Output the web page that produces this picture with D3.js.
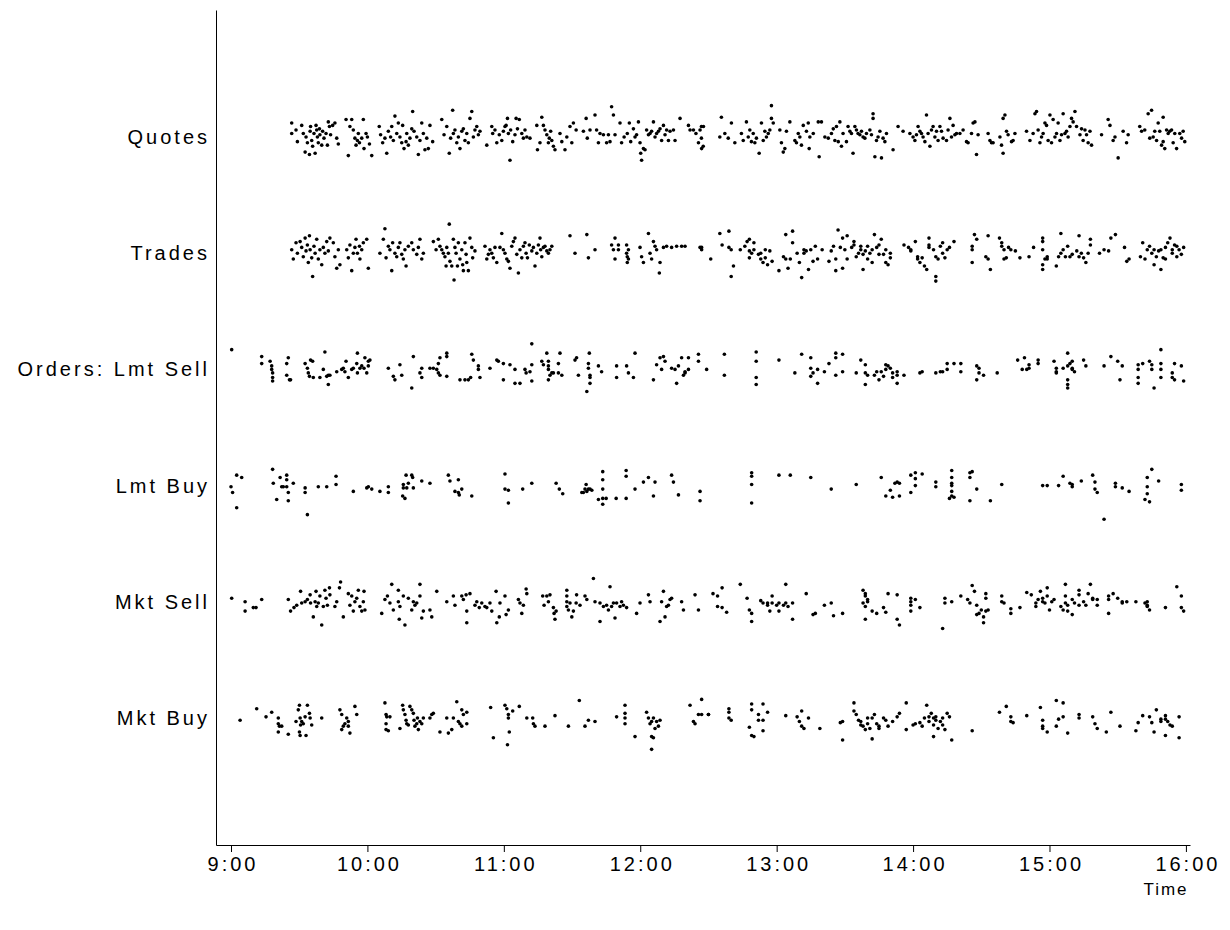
<!DOCTYPE html>
<html>
<head>
<meta charset="utf-8">
<script src="https://cdn.jsdelivr.net/npm/d3@7"></script>
<style>
  body { margin: 0; background: #fff; }
  text { font-family: "Liberation Sans", Arial, sans-serif; }
</style>
</head>
<body>
<div id="chart"></div>
<script>
// rows, bottom to top
const categories = ["Mkt Buy", "Mkt Sell", "Lmt Buy", "Orders: Lmt Sell", "Trades", "Quotes"];
// minutes after 9:00
const timeTicks = [0, 60, 120, 180, 240, 300, 360, 420];
const tickLabels = ["9:00", "10:00", "11:00", "12:00", "13:00", "14:00", "15:00", "16:00"];

// each event: [minutes after 9:00, vertical jitter in row units]
const quotes = [[26.7,.12],[26.7,.03],[28.6,.06],[29.2,-.04],[31.1,.10],[31.8,.03],[32.6,-.13],[33.0,0],[33.6,-.05],[34.5,-.15],[34.8,.05],[35.0,.09],[35.5,-.03],[35.9,-.08],[36.5,.03],[37.0,-.14],[37.4,.10],[37.7,.06],[38.0,0],[38.4,-.05],[38.9,.07],[39.1,.02],[39.9,-.07],[40.3,.05],[40.9,-.01],[41.8,.03],[42.4,-.07],[42.8,.13],[43.3,.09],[43.8,.02],[44.7,.10],[45.7,.12],[46.5,-.01],[47.2,-.06],
[50.6,.15],[51.6,-.16],[52.3,.09],[53.1,.15],[53.8,.06],[54.5,-.01],[55.0,-.07],[55.6,-.03],[56.0,.03],[56.5,-.05],[57.5,-.01],[58.2,.15],[58.5,-.10],[59.4,.03],[60.0,0],[60.9,-.06],[61.9,-.16],
[65.2,.09],[65.8,.02],[66.7,-.05],[67.7,-.01],[68.5,-.14],[69.2,.05],[70.2,0],[70.7,.09],[71.4,-.03],[72.1,.18],[72.9,.03],[73.6,.12],[74.3,0],[75.1,-.05],[75.5,.10],[76.1,-.10],[77.0,-.04],[77.3,.03],[78.0,-.07],[78.7,-.01],[79.5,.07],[79.9,.22],[80.5,.05],[81.7,0],[82.4,-.15],[83.1,-.03],[83.9,.12],[84.6,.03],[85.3,-.11],[86.1,-.01],[86.8,-.10],[87.5,.10],[88.7,-.04],
[92.7,.15],[93.7,.02],[94.9,.09],[96.0,-.14],[96.6,-.01],[97.5,.23],[97.8,.03],[98.5,.06],[99.3,-.05],[100.0,0],[100.7,-.10],[101.5,.05],[102.2,.07],[102.9,-.03],[103.7,.03],[104.4,-.05],[105.1,.16],[105.9,.22],[106.6,0],[107.3,.06],[108.1,.09],[108.8,.02],[109.5,.05],
[112.5,-.07],[114.7,.09],[115.1,.03],[116.1,.06],[116.9,-.05],[118.0,.02],[119.1,-.03],[119.8,.05],[120.5,.09],[121.0,.10],[121.6,.16],[122.0,.03],[122.7,-.20],[123.0,.06],[123.9,-.04],[124.9,.02],[125.4,.16],[126.0,.07],[126.8,.15],[127.9,.03],[128.6,-.01],[129.3,.06],[130.1,0],[131.5,-.01],
[134.5,.10],[134.8,-.11],[135.9,-.05],[136.7,.17],[137.4,.10],[138.1,.06],[138.9,.02],[139.6,-.05],[140.0,-.01],[140.6,.05],[141.1,-.03],[141.8,-.08],[142.5,-.11],[144.7,.03],[145.5,-.04],[146.9,-.11],[147.7,0],[149.1,.09],[149.9,-.05],[150.6,.12],[151.8,.06],
[155.0,.05],[156.2,.16],[156.7,-.01],[157.9,.06],[160.1,.19],[160.8,.06],[161.6,-.05],[162.3,.03],[163.8,.02],[165.2,-.05],[166.0,.02],[166.7,-.04],[167.4,.26],[168.2,.19],[168.9,.02],
[171.1,.12],[171.8,-.05],[172.9,0],[174.3,.03],[175.2,.12],[175.8,-.04],[177.0,.07],[177.7,0],[178.4,.02],[179.2,.13],[179.9,-.05],[180.2,-.14],[180.6,-.20],[181.4,-.10],[182.1,-.11],[182.8,.06],[183.6,.02],[184.3,.03],[185.0,.05],[185.8,.13],[186.5,0],[187.2,.03],[188.0,.05],[188.7,.07],[189.4,-.03],[190.2,.10],[190.9,.02],[191.6,.06],[192.4,-.03],[193.1,.05],[194.6,.06],[195.3,-.03],
[197.5,.16],[201.2,.10],[201.9,.06],[203.4,.06],[204.5,.03],[205.6,-.05],[206.3,.06],[207.0,-.10],[207.8,.09],
[206.9,.09],[206.9,-.01],[207.7,-.08],[215.7,.17],[215.0,0],[217.2,.03],[218.7,-.01],[220.1,.12],[221.6,-.05],[224.5,.03],[225.3,-.03],[226.7,.13],[227.5,0],[228.2,.06],[228.9,-.04],[229.7,.03],[230.4,-.05],[231.1,-.01],[232.3,-.14],[233.3,.12],[234.1,-.03],[234.8,.05],[235.5,0],[236.3,.03],[237.0,.06],[237.7,.27],[237.7,.16],[238.5,.12],
[241.4,.06],[242.1,-.05],[242.9,-.13],[243.6,-.10],[244.3,.05],[245.8,.13],[248.0,-.03],[248.7,-.05],[249.5,.03],[250.2,0],[250.9,-.07],[251.7,.10],[253.1,.05],[253.9,.12],[254.6,0],[256.1,.03],[254.3,-.10],[258.3,.13],[258.7,-.17],[259.7,.13],
[261.2,0],[262.7,-.01],[264.1,.03],[264.9,.07],[265.6,-.03],[266.3,.09],[267.1,-.04],[267.8,.13],[268.5,-.08],[269.2,.03],[270.7,-.04],[271.4,.09],[272.2,.05],[272.9,.03],[273.6,-.14],[274.4,.09],[275.1,.06],[275.8,.03],[276.6,.02],[277.3,.05],[278.0,0],[278.8,-.01],[279.5,.03],[281.0,.06],[281.7,.02],[282.4,.20],[282.4,.16],[283.2,-.17],[283.9,-.03],[284.6,0],[285.4,.05],[286.1,-.18],[286.8,-.01],[287.6,-.04],[288.3,.03],[291.2,-.11],[293.4,.09],[295.6,.05],[298.6,.03],
[300.0,0],[300.8,-.03],[301.5,.02],[302.2,.09],[303.0,.05],[303.7,.03],[304.4,0],[305.2,-.04],[305.9,.19],[306.6,.03],[307.4,-.08],[308.1,.06],[308.8,.09],[309.6,0],[310.3,.05],[311.0,-.03],[311.8,.09],[312.5,.05],[313.2,-.01],[314.7,-.03],[315.4,.06],[316.2,.16],[316.9,0],[317.6,.10],[318.4,.02],[319.1,.03],[320.6,.03],[322.0,.06],[323.5,-.04],[324.2,-.05],[325.7,.03],[326.4,.12],[327.2,.13],[327.9,-.15],[328.6,.02],
[333.0,.03],[333.8,-.03],[334.5,-.05],[335.2,-.05],[338.2,0],[338.9,-.07],[339.6,.16],[340.4,.19],[339.6,-.14],[341.1,.05],[341.8,.02],[343.3,-.04],[344.0,-.03],[344.8,.03],
[349.9,.05],[351.4,-.03],[352.8,.03],[353.6,.20],[354.3,.22],[355.0,.06],[355.8,-.05],[356.5,0],[357.2,.03],[358.0,.12],[358.7,.10],[359.4,-.03],[360.2,.19],[360.9,-.05],[361.6,.15],[362.4,0],[363.1,.03],[363.8,.12],[364.6,-.03],[365.3,.02],[366.0,.20],[366.8,.03],[367.5,.05],[368.2,0],[369.0,.09],[369.7,.16],[370.4,.13],[371.2,.22],[371.9,.09],[373.4,.02],[374.1,.07],[374.8,-.03],[375.6,.06],[376.3,.02],[377.0,-.05],[377.8,.05],[378.5,-.07],
[382.9,.02],[385.8,.15],[386.6,.10],[388.0,-.03],[388.8,0],[390.2,-.18],[392.4,.05],[393.9,-.05],[394.6,.02],
[399.7,.09],[400.5,.05],[401.9,.06],[403.4,.20],[404.1,-.01],[404.9,.23],[405.6,0],[406.3,.05],[407.1,-.03],[407.8,.12],[408.5,.05],[409.3,-.07],[410.0,.17],[410.0,-.04],[410.7,-.10],[411.5,.06],[412.2,.03],[412.9,.05],[413.7,.06],[414.4,-.05],[415.1,.03],[415.9,-.10],[417.3,.03],[418.1,-.01],[418.8,.05],[419.5,-.04]];

const trades = [[26.7,.03],[27.4,-.05],[28.6,.09],[29.2,0],[30.4,.10],[31.1,.05],[31.8,-.03],[32.6,.13],[33.0,.02],[33.6,.07],[34.0,-.08],[34.5,.15],[34.8,.03],[35.5,-.04],[35.9,-.20],[36.5,.06],[37.0,0],[37.7,.12],[38.4,-.05],[39.1,.03],[39.9,-.10],[40.6,.05],[41.3,0],[42.1,.10],[42.8,.02],[43.5,.13],[45.0,.09],[45.7,-.03],[46.5,-.13],[47.2,.03],[47.9,-.10],
[50.9,.03],[51.6,-.04],[52.3,.07],[53.1,-.15],[53.8,0],[54.5,.05],[55.0,.12],[55.6,0],[56.5,.06],[56.7,-.05],[57.5,.03],[58.2,.09],[59.7,.12],[60.4,-.13],
[65.5,0],[67.0,.12],[67.7,.21],[68.2,-.04],[69.2,.06],[69.9,.03],[70.7,-.15],[71.1,.09],[72.1,0],[72.9,-.03],[73.6,.05],[74.3,.09],[75.1,-.01],[75.8,-.05],[76.5,.03],[77.0,-.11],[78.0,.06],[79.5,.09],[80.2,.03],[81.7,-.01],[82.4,.05],[83.1,.12],[83.9,-.05],[84.6,0],
[89.0,.10],[90.2,.03],[91.2,.12],[91.9,.06],[92.7,.03],[93.4,0],[94.1,-.03],[94.6,-.11],[94.9,.05],[95.6,0],[96.0,.25],[96.3,-.07],[97.1,-.11],[97.8,.12],[98.1,-.23],[98.5,.05],[99.0,0],[99.6,-.11],[100.0,.09],[100.7,-.05],[101.5,.03],[101.9,-.10],[102.2,-.15],[102.9,.09],[103.4,-.01],[103.7,-.08],[104.4,-.15],[105.1,.13],[105.9,.05],[106.3,-.04],[107.3,.02],
[111.7,.06],[112.5,-.05],[113.2,-.01],[113.9,.03],[114.7,0],[115.4,-.04],[116.1,.05],[116.9,-.08],[118.3,.05],[119.1,.17],[119.8,.03],[120.5,0],[121.3,-.05],[122.0,-.07],[122.7,-.13],[123.5,.06],[124.2,.10],[124.9,.13],[125.7,-.01],[126.4,-.17],[127.1,.03],[127.9,-.04],[128.6,.06],[129.3,.09],[129.8,0],[130.4,-.04],[131.2,.07],[132.3,.02],[133.0,.05],[133.7,-.11],[134.5,0],[135.2,.07],[135.9,.13],[136.2,.03],[136.7,-.03],[137.4,.05],[138.1,.06],[138.9,.02],[139.6,0],[140.3,.03],[141.1,.06],
[149.1,.15],[151.3,0],[156.5,.16],[157.2,-.04],[160.1,.03],[168.9,.13],[167.4,.07],[168.2,.03],[168.9,-.05],[170.4,.07],[170.4,.03],[174.0,.07],[174.0,0],[174.3,-.03],[174.8,-.05],[174.3,-.08],[174.8,.03],[179.9,.05],[180.6,-.03],[181.4,-.08],[183.6,.17],[184.3,0],[185.0,-.05],[185.8,.10],[186.5,.06],[187.2,.03],[188.4,-.17],[188.7,-.08],[190.2,.05],[191.6,.06],[193.8,.05],[196.0,.06],[198.2,.06],[199.7,.06],[206.3,.05],[207.0,.03],
[207,.05],[211,-.05],[215,.17],[216,.07],[219,.19],[219,.05],[220,.03],[221,-.11],[220,-.20],[224,.03],[226,.06],[227,.10],[228,.12],[228,.02],[228,-.04],[229,0],[230,.09],[230,.03],[232,-.01],[233,0],[233,-.05],[234,-.08],[235,.03],[235,-.04],[236,-.10],[237,.02],[238,-.07],
[241,-.15],[243,-.03],[244,.16],[244,-.05],[245,-.13],[246,-.05],[247,.19],[247,.09],[249,0],[250,-.08],[251,-.21],[252,.03],[252,0],[253,.02],[254,-.14],[255,.03],[256,-.07],[257,.06],[258,-.05],[260,.03],
[263,-.07],[264,.02],[265,.06],[266,-.15],[266,-.05],[267,.20],[268,.05],[269,-.13],[269,.13],[270,.03],[271,-.05],[271,.15],[273,.05],[274,.10],[274,.07],[275,-.03],[276,0],[277,.06],[277,.03],[278,-.01],[279,.02],[278,-.14],[280,.06],[280,-.05],[281,0],[282,-.08],[282,.03],[283,.16],[284,.05],[285,-.01],[285,.07],[286,.12],[287,-.01],[288,-.08],[288,.03],[290,0],[290,-.04],[289,-.10],
[296,.07],[298,.05],[299,.02],[299,.03],[301,.10],[302,-.03],[302,-.05],[303,-.08],[304,-.04],[305,-.11],[306,-.14],[307,.05],[307,.13],[307,.07],[309,.03],[310,-.20],[310,-.24],[310,-.03],[311,-.05],[312,.06],[313,.09],[313,0],[314,-.04],[315,.03],[316,.05],[318,.10],
[326,.06],[326,.03],[326,-.08],[327,.16],[328,.12],[332,-.03],[333,-.05],[333,.15],[334,-.14],[338,.13],[339,.09],[339,.06],[340,.03],[340,-.05],[341,-.04],[342,.05],[343,.03],[345,.02],[347,-.04],[351,-.03],[353,.05],
[357,.13],[357,.10],[357,.03],[358,-.05],[357,-.10],[357,-.14],[359,-.05],[359,-.03],[363,-.11],[364,-.03],[365,.17],[365,0],[366,.03],[367,-.03],[368,.06],[369,-.03],[370,-.01],[372,.02],[373,.15],[373,-.03],[374,0],[375,-.04],[376,-.08],[377,0],[378,.12],[378,.07],[382,0],[384,.03],[386,.02],[387,.13],[389,.16],
[393,.05],[394,-.07],[395,-.05],[400,-.03],[401,.09],[402,-.05],[403,.03],[404,.06],[405,0],[406,-.10],[406,.03],[407,-.03],[408,.02],[409,.03],[409,-.14],[410,-.04],[411,-.05],[411,.05],[412,.09],[413,.13],[414,0],[414,.03],[415,.07],[416,.06],[416,-.03],[417,.03],[418,-.01],[419,.05]];

const lmtSell = [[0.3,.17],[13.5,.11],[13.5,.05],[17.2,.07],[17.9,.03],[17.9,0],[18.3,-.03],[18.3,-.07],[18.3,-.10],[24.5,.05],[24.5,-.05],[25.2,.10],[25.7,-.09],[26.2,-.09],[32.6,.05],[33.6,.01],[34.0,-.03],[34.5,-.06],[35.0,.08],[35.9,.07],[36.2,-.07],[39.1,-.07],[40.6,0],[41.3,.15],[42.1,-.06],[42.8,-.05],[42.8,-.13],[43.5,-.05],[46.5,-.02],[48.7,0],[49.4,.01],[50.1,-.02],[50.6,.07],[51.6,-.07],[53.1,0],[53.8,.01],[55.3,.05],[55.6,-.03],[55.6,.14],[56.7,.01],[57.5,.03],[58.5,.01],[58.9,.10],[59.7,-.03],[60.4,.03],[60.4,.07],[61.1,.08],
[69.2,.01],[71.4,-.06],[72.1,-.09],[74.3,.04],[75.1,-.05],[79.5,-.16],[80.2,.11],[83.1,-.03],[83.9,.01],[83.9,-.07],[87.5,.01],[89.0,.01],[90.5,0],[91.2,.05],[91.2,-.03],[91.9,-.05],[91.9,.10],[94.9,.14],[94.9,.11],[94.9,-.06],
[100.7,-.09],[102.9,-.09],[104.4,-.09],[105.4,-.07],[105.9,.13],[106.6,.08],[108.8,.03],[108.8,0],[109.5,-.07],[113.9,.01],[116.9,.08],[117.6,.07],[119.8,.05],[119.8,-.09],[122.7,.04],[124.9,0],[124.9,-.12],[127.1,-.12],[129.3,0],[129.8,-.03],[131.5,-.02],[132.3,-.10],[132.3,.04],[132.3,.22],
[136.7,.07],[137.4,.04],[138.9,.14],[139.6,.07],[139.6,.03],[139.6,0],[139.6,-.09],[140.3,-.05],[141.1,-.03],[141.8,-.03],[144.0,-.03],[144.0,.05],[144.7,.14],[145.5,-.05],[151.3,.08],[152.0,.10],[152.8,-.05],[156.5,-.19],[157.2,.05],[157.2,.01],[157.6,.14],[157.9,-.05],[157.9,-.07],[157.9,-.12],[161.6,.03],[163.0,-.02],
[169.6,.03],[169.6,-.07],[174.0,.03],[174.8,-.03],[177.0,-.07],[177.7,.14],[185.8,-.09],[187.2,.04],[188.7,.10],[189.4,0],[190.2,.11],[190.9,.07],[193.8,.01],[195.3,0],[196.0,-.12],[196.8,.03],[198.2,.10],[199.0,-.05],[199.7,-.03],[199.7,-.02],[201.2,.10],[201.2,0],[205.6,.13],[205.6,.07],[209.2,0],
[217,.13],[217,-.05],[231,.15],[231,.07],[231,-.07],[231,-.13],[241,.08],[248,-.03],[251,.13],[255,.10],[255,.01],[255,-.06],[256,-.03],[258,0],[258,-.12],[261,-.02],[263,.05],[266,.14],[266,.10],[266,-.05],[269,.13],[269,-.02],
[275,-.03],[277,.08],[279,.04],[279,-.03],[280,-.05],[279,-.13],[283,-.05],[284,-.02],[285,-.09],[286,-.02],[287,-.06],[288,.04],[288,0],[289,.03],[290,.01],[291,-.07],[291,-.03],[293,-.05],[293,-.02],[293,-.12],[296,-.05],
[303,-.03],[304,-.02],[310,-.03],[312,-.02],[313,-.02],[315,0],[315,.05],[318,.05],[321,.05],[321,-.02],[328,.03],[329,.01],[328,-.09],[329,-.03],[331,-.05],[337,-.03],
[346,.08],[348,0],[349,.10],[350,0],[351,.01],[351,.04],[355,.08],[355,.05],[362,.07],[363,.01],[363,-.02],[363,-.03],[366,.01],[368,.14],[368,-.09],[368,-.13],[368,-.16],[368,.03],[369,.05],[370,.01],[370,0],[371,-.02],[370,.07],[375,.08],[376,.03],
[384,.03],[387,.11],[390,.07],[392,.03],[391,-.09],[399,.04],[399,0],[399,-.07],[399,-.12],[401,.05],[404,.07],[405,.04],[405,0],[406,-.16],[409,.17],[409,.05],[409,0],[409,-.07],[414,-.03],[414,-.07],[415,.05],[415,-.09],[418,.03],[419,-.10]];

const lmtBuy = [[0,-.01],[0.7,-.06],[2.5,.09],[2.5,-.19],[4.7,.07],[18.3,.14],[18.6,.02],[20.1,-.12],[21.6,.07],[22.3,-.01],[23.0,-.01],[24.5,.09],[24.5,.05],[24.5,-.01],[25.2,-.06],[25.2,-.13],[27.4,.02],[32.6,-.02],[32.6,-.06],[33.6,-.25],[38.4,-.01],[42.1,-.01],[46.2,.08],[46.2,.01],[53.8,-.05],[59.7,-.02],[60.4,-.01],[61.9,-.03],[65.5,-.05],[69.2,-.01],[69.2,-.06],
[75.8,.01],[75.8,-.02],[75.5,-.09],[76.5,-.11],[77.0,.09],[77.3,-.02],[78.0,.02],[79.5,.09],[79.9,.07],[80.2,-.02],[83.9,.04],[87.5,.02],[95.6,.09],[96.3,.04],[98.5,-.05],[100.0,.05],[100.0,-.06],[100.4,-.08],[101.5,-.03],[105.9,-.09],
[120.5,.10],[120.5,-.03],[122.0,-.04],[122.0,-.15],[128.3,-.03],[132.3,.02],[143.0,.02],[144.4,-.03],[145.9,-.07],[154.3,-.06],[155.0,-.06],[155.7,-.03],[156.2,.01],[156.5,-.05],[157.2,-.03],[157.9,-.03],[158.7,-.04],[161.6,-.12],[163.5,.12],[163.5,.05],[163.5,-.03],[163.5,-.11],[163.5,-.16],[165.0,-.11],[169.4,-.11],
[173.8,.13],[173.8,.08],[173.8,-.11],[177.7,-.03],[181.4,.03],[183.6,.07],[185.8,-.09],[186.5,.03],[193.8,.09],[194.6,.03],[196.8,-.08],[206.3,-.05],[206.3,-.13],
[229,.11],[229,.08],[229,.01],[229,-.15],[241,.09],[246,.09],[255,.07],[264,-.03],[275,.01],[286,.07],[288,-.09],[290,-.04],[291,-.10],[292,.02],[293,.03],[294,.02],[294,-.09],[299,.09],[299,-.06],[301,.11],[301,.06],[301,0],[304,.10],[310,.03],[310,-.01],
[317,.13],[317,.07],[317,.02],[317,0],[317,-.05],[317,-.09],[316,-.11],[318,-.10],[325,.11],[325,.07],[326,.12],[328,-.03],[325,-.13],[334,-.13],[339,.01],
[357,0],[359,0],[364,0],[366,.08],[369,.02],[370,-.01],[370,.01],[374,.04],[379,.09],[380,.03],[380,-.03],[381,-.06],[384,-.29],[389,.02],[389,-.01],[392,-.02],[395,-.05],[403,.07],[403,-.01],[403,-.07],[402,-.12],[404,-.14],[405,.14],[408,.04],[418,.01],[418,-.04]];

const mktSell = [[0.3,.03],[6.2,0],[6.2,-.08],[9.8,-.05],[11.0,-.05],[13.5,.02],[25.2,.02],[26.2,-.08],[27.7,-.05],[28.9,-.03],[30.6,.09],[31.1,-.01],[32.6,0],[33.6,.02],[34.8,.06],[35.0,-.01],[36.2,-.13],[37.0,0],[37.4,.09],[37.7,-.04],[38.4,-.01],[39.1,.05],[39.9,-.20],[40.6,-.04],[41.3,.10],[41.8,.03],[42.4,-.03],[43.3,.12],[43.5,.06],[45.7,-.04],[46.5,0],[47.7,.12],[48.2,.17],[49.4,-.13],
[51.6,.07],[52.3,-.03],[53.1,.05],[53.8,-.08],[54.5,0],[55.3,.03],[56.0,.10],[56.7,-.04],[57.5,-.08],[58.2,0],[58.9,-.07],[58.5,.09],
[66.3,-.10],[67.7,.02],[68.8,.05],[69.9,-.01],[70.7,.15],[71.4,-.07],[73.6,.10],[73.6,0],[74.0,-.15],[74.3,-.04],[75.8,.05],[76.5,-.20],[78.0,.03],[79.5,-.07],[80.2,0],[80.9,-.03],[81.7,-.01],[83.1,.15],[83.1,.05],[83.9,-.14],[84.6,-.08],[87.5,-.07],[88.3,-.13],[90.5,.09],
[94.9,0],[97.8,.05],[98.5,-.03],[101.5,.05],[102.2,.02],[103.4,.06],[103.7,-.08],[103.7,-.18],[105.1,.07],[107.3,-.03],[108.1,0],[109.2,-.05],[110.3,-.01],[111.7,-.04],[112.5,-.05],[113.9,-.01],[114.7,-.08],[116.6,.09],[116.9,-.18],[118.0,-.13],[118.3,-.01],[120.5,.05],[121.0,-.11],[122.0,-.07],
[126.4,.02],[127.1,-.01],[127.9,-.10],[128.6,-.03],[129.8,.11],[130.1,.07],[137.1,.05],[137.7,-.03],[138.9,.05],[139.6,0],[140.3,.06],[141.8,-.05],[142.1,-.10],[142.5,-.15],[143.0,-.08],
[147.7,.10],[147.7,.05],[147.7,0],[147.7,-.04],[148.4,-.07],[149.1,-.01],[149.9,-.13],[150.6,-.08],[151.8,-.01],[152.0,.06],[153.5,-.03],[155.7,.05],[156.5,.02],[159.4,.20],[160.1,0],[162.3,-.01],[162.3,-.17],[163.8,-.04],[165.2,-.03],[166.0,-.07],[166.7,.13],[167.4,-.04],[168.2,-.01],[168.9,-.14],[169.6,-.01],[171.1,-.04],[171.8,0],[172.6,-.03],[174.0,-.05],
[178.4,-.10],[179.9,-.01],[183.6,.06],[184.3,0],[188.7,-.17],[189.4,0],[190.2,.09],[190.9,-.13],[191.6,-.04],[192.4,-.03],[193.1,.02],[193.8,.03],[198.2,0],[199.0,-.07],[204.1,.06],[205.6,-.07],
[212,.07],[214,.05],[216,.12],[214,-.04],[216,-.05],[218,-.09],[224,.15],[227,.03],[228,-.07],[229,-.10],[229,-.17],[233,.01],[234,-.01],[236,-.03],[236,-.01],[237,-.08],[238,.05],[238,-.01],[240,-.03],[241,-.08],[241,-.01],[243,-.03],[244,.15],[244,-.01],[245,-.04],[247,-.01],[247,-.15],
[253,.07],[256,-.11],[257,-.10],[261,-.03],[264,-.01],[265,-.12],[269,-.10],
[278,.10],[279,.07],[279,.05],[278,-.01],[279,-.04],[280,.02],[280,0],[279,-.15],[282,-.08],[284,-.10],[287,-.05],[288,-.09],[289,.07],[293,.06],[293,-.15],[294,-.20],[299,.03],[299,0],[299,-.03],[299,-.08],[301,.02],[303,-.05],
[313,-.23],[314,.03],[314,-.01],[317,0],[321,.05],[324,.02],[325,-.01],[326,.14],[327,.09],[328,-.03],[328,-.11],[329,-.10],[330,-.07],[331,-.13],[332,.03],[332,.07],[332,-.08],[333,-.07],[331,-.18],
[339,.05],[339,0],[340,-.01],[343,-.06],[343,-.10],[347,-.05],[350,.08],[352,.06],[354,-.04],[354,-.01],[355,.02],[356,.09],[357,0],[357,.03],[358,-.01],[359,.12],[359,.05],[360,-.07],[361,0],[362,.02],
[365,-.04],[366,-.07],[367,.05],[367,.15],[368,-.08],[368,-.03],[367,-.01],[370,-.11],[370,.02],[371,-.01],[373,.10],[373,.06],[373,-.03],[375,0],[376,-.03],[377,.07],[378,.15],[379,.03],[379,.02],[381,.02],[381,-.03],
[386,.02],[386,.05],[386,-.10],[388,.07],[390,.03],[392,0],[392,-.01],[394,0],[398,0],[402,-.01],[403,-.04],[403,0],[404,-.07],[403,-.03],[411,-.05],[416,.13],[418,.05],[418,-.05],[419,-.08]];

const mktBuy = [[4.0,-.02],[11.3,.08],[15.4,.01],[17.9,.05],[20.8,0],[20.8,-.05],[21.3,-.07],[20.8,-.12],[22.3,-.07],[25.2,-.14],[28.6,-.03],[29.6,.07],[30.1,.11],[30.4,0],[30.6,-.06],[31.1,-.03],[30.1,-.12],[30.4,-.15],[31.8,-.05],[32.6,.01],[33.0,-.15],[33.6,.11],[34.5,.04],[34.8,0],[35.5,-.06],[39.9,0],
[47.9,.07],[48.7,.03],[49.4,-.07],[48.7,-.10],[50.1,-.05],[50.9,0],[51.6,-.07],[52.3,-.13],[51.6,-.03],[54.5,.10],[55.3,.03],
[67.7,.13],[68.2,.03],[68.5,.01],[69.9,.01],[68.2,-.05],[68.2,-.10],[69.2,-.11],[74.3,-.09],[75.5,.11],[75.8,.07],[76.5,.03],[77.0,-.02],[77.3,-.05],[78.0,-.06],[78.7,.10],[79.5,.07],[80.2,.04],[80.5,-.02],[80.9,-.07],[81.7,-.05],[82.0,0],[82.4,-.10],[83.1,-.03],[83.9,-.05],[84.6,0],[87.5,0],[88.3,.03],[89.0,.04],[91.9,-.12],
[94.9,0],[95.6,-.13],[97.1,-.10],[97.8,0],[99.3,.14],[100.0,-.03],[100.7,-.05],[101.5,-.07],[101.5,.07],[102.2,.03],[103.7,.05],[103.7,-.05],
[114.2,.09],[115.4,-.17],[120.5,.11],[121.3,.08],[122.0,.03],[122.0,0],[122.4,-.12],[121.6,-.23],[123.9,.06],[126.8,.10],[130.1,0],[132.7,0],[133.0,-.05],[133.7,-.07],[138.1,-.07],[142.5,.02],[148.4,-.07],[153.2,.15],[155.7,-.07],[157.2,-.02],[160.1,-.03],
[169.6,.01],[173.3,.11],[173.3,.04],[173.3,0],[173.3,-.05],[177.7,-.16],[182.8,.05],[183.6,0],[184.3,-.05],[185.0,-.03],[185.8,0],[186.5,-.09],[187.2,-.03],[188.0,-.07],[188.7,-.02],[185.0,-.16],[185.8,-.17],[185.0,-.27],
[201.9,.11],[203.4,-.03],[204.1,-.05],[205.6,.03],[207.0,.16],[210.0,.03],
[207,.03],[210,.03],[219,.08],[219,.05],[219,0],[220,-.02],[229,.12],[229,.07],[232,.03],[234,.12],[232,-.02],[234,-.02],[236,.05],[228,-.08],[229,-.15],[230,-.16],[234,-.11],
[244,.02],[249,.01],[251,.06],[250,-.03],[251,-.07],[252,-.09],[254,0],[259,-.09],[268,-.04],[269,-.03],[269,-.19],
[274,.13],[274,.06],[275,.03],[276,-.02],[277,-.06],[277,-.03],[278,-.07],[279,-.10],[280,0],[280,-.05],[281,-.09],[282,-.18],[282,0],[283,.03],[284,-.05],[285,-.09],[285,-.07],[287,0],[288,-.02],[289,-.07],[291,-.03],[293,.01],[294,.04],
[297,.13],[297,-.10],[300,-.06],[301,-.05],[303,-.04],[304,-.07],[305,0],[306,.11],[307,.01],[307,-.03],[308,.04],[309,0],[309,-.06],[310,-.02],[309,-.16],[310,.01],[311,-.09],[312,-.03],[313,0],[313,-.06],[314,-.10],[315,.04],[316,.01],[317,-.19],
[326,-.11],[338,.05],[341,.10],[343,.01],[343,-.03],[344,-.04],[350,.02],
[356,.09],[357,-.02],[357,-.07],[357,-.09],[359,-.12],[363,.15],[364,-.01],[363,-.07],[366,.13],[366,.01],[368,-.13],[373,.03],[373,0],[379,.01],[380,-.05],[381,-.09],[385,-.12],[387,.05],[391,-.07],
[398,-.11],[399,-.04],[401,.02],[404,.01],[405,-.04],[406,-.12],[407,.07],[409,-.01],[409,-.03],[411,.02],[411,-.01],[412,-.03],[413,-.06],[414,-.07],[411,-.15],[417,.01],[417,-.17]];

const rows = [mktBuy, mktSell, lmtBuy, lmtSell, trades, quotes];

const width = 1230, height = 930;

const svg = d3.select("#chart").append("svg")
    .attr("width", width)
    .attr("height", height);

// 9:00 sits at 231px, 16:00 at 1186px; axis runs a little past both
const x = d3.scaleLinear().domain([-6.6, 421.8]).range([216, 1190]);
const y = d3.scaleLinear().domain([-0.093, 7.093]).range([845, 10]);

const xAxis = svg.append("g")
    .attr("transform", "translate(0,845)")
    .call(d3.axisBottom(x)
        .tickValues(timeTicks)
        .tickFormat((d, i) => tickLabels[i])
        .tickSize(7)
        .tickSizeOuter(0)
        .tickPadding(5));

xAxis.selectAll("text")
    .attr("fill", "#000")
    .attr("dx", "1.5px")
    .style("font-size", "20px")
    .style("letter-spacing", "3px");

const yAxis = svg.append("g")
    .attr("transform", "translate(216,0)")
    .call(d3.axisLeft(y)
        .tickValues([1, 2, 3, 4, 5, 6])
        .tickFormat(d => categories[d - 1])
        .tickSize(0)
        .tickSizeOuter(0)
        .tickPadding(6));

yAxis.selectAll("text")
    .attr("fill", "#000")
    .style("font-size", "20px")
    .style("letter-spacing", "3px");

svg.selectAll(".domain, .tick line").attr("stroke", "#000");

svg.append("text")
    .attr("x", 1166)
    .attr("y", 895)
    .attr("text-anchor", "middle")
    .style("font-size", "17px")
    .style("letter-spacing", "2px")
    .text("Time");

rows.forEach((data, k) => {
    svg.append("g")
        .selectAll("circle")
        .data(data)
        .enter().append("circle")
            .attr("cx", d => x(d[0]))
            .attr("cy", d => y(k + 1 + d[1]))
            .attr("r", 1.8)
            .attr("fill", "#000");
});
</script>
</body>
</html>
